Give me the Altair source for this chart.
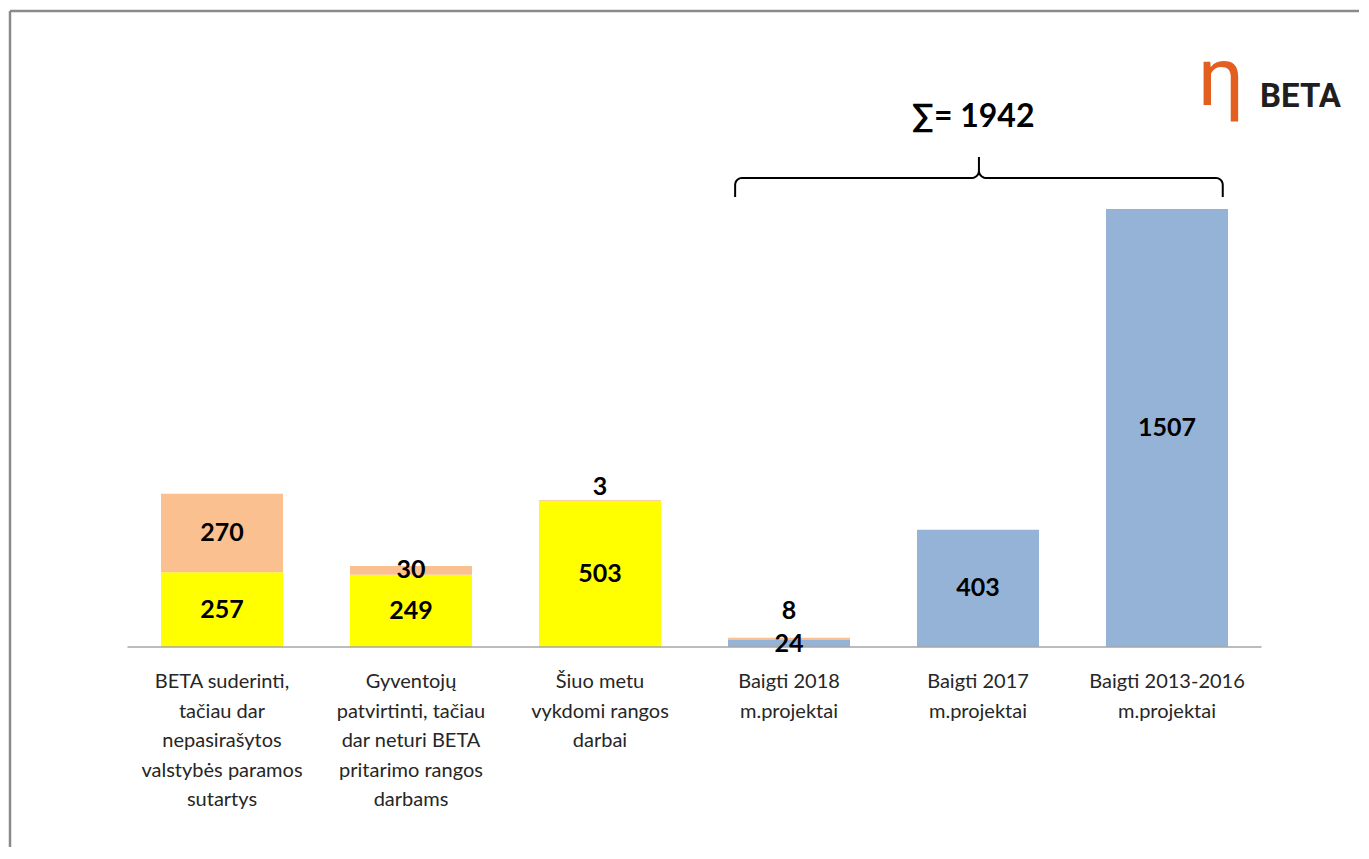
import math
import altair as alt
import pandas as pd

# ---------------- data ----------------
categories = [
    "BETA suderinti,\ntačiau dar\nnepasirašytos\nvalstybės paramos\nsutartys",
    "Gyventojų\npatvirtinti, tačiau\ndar neturi BETA\npritarimo rangos\ndarbams",
    "Šiuo metu\nvykdomi  rangos\ndarbai",
    "Baigti 2018\nm.projektai",
    "Baigti 2017\nm.projektai",
    "Baigti 2013-2016\nm.projektai",
]
base_values = [257, 249, 503, 24, 403, 1507]
top_values = [270, 30, 3, 8, 0, 0]
base_colors = ["#FFFF00", "#FFFF00", "#FFFF00", "#95B3D7", "#95B3D7", "#95B3D7"]
top_color = "#FAC090"
completed_idx = [3, 4, 5]
sum_total = sum(base_values[i] + top_values[i] for i in completed_idx)  # 1942

# ---------------- layout ----------------
W, H = 1349, 836
k = 0.29065                      # px per unit
y0_px = 636                      # baseline (plot-relative)
yscale = alt.Scale(domain=[-(H - y0_px) / k, y0_px / k], nice=False, zero=False)
step = 189
bar_w = 122
p_inner = 1 - bar_w / step
p_outer = (W - step * (len(categories) - p_inner)) / (2 * step)
first_bar = 151
align = first_bar / (W - step * (len(categories) - p_inner))
xband_scale = alt.Scale(type="band", domain=categories, paddingInner=p_inner,
                        paddingOuter=p_outer, align=align, round=False)
center0 = first_bar + bar_w / 2
u_min = -(center0 - 0.5 * step) / step
u_max = (W - (center0 - 0.5 * step)) / step
uscale = alt.Scale(domain=[u_min, u_max], nice=False, zero=False)

# ---------------- tables ----------------
rows = []
for i, c in enumerate(categories):
    rows.append(dict(cat=c, seg="base", value=base_values[i], y0=0,
                     y1=base_values[i], color=base_colors[i]))
    rows.append(dict(cat=c, seg="top", value=top_values[i], y0=base_values[i],
                     y1=base_values[i] + top_values[i], color=top_color))
df = pd.DataFrame(rows)
df = df[df["value"] > 0].copy()
df["mid"] = (df["y0"] + df["y1"]) / 2
df["label"] = df["value"].astype(str)
# thin segments: label sits above the bar, clear of the label below it
above_gap = 45 / 1.0      # value units above the bar top
clear_gap = 113 / 1.0     # value units above the lower label
df["ly"] = df["mid"]
thin = df["value"] < 20
df.loc[thin, "ly"] = [max(r.y1 + above_gap, r.y0 / 2 + clear_gap)
                      for r in df[thin].itertuples()]

xb = alt.X("cat:N", sort=categories, scale=xband_scale, axis=None)
xt = alt.X("cat:N", sort=categories, scale=xband_scale, axis=None, bandPosition=0.5)

bars = alt.Chart(df).mark_bar().encode(
    x=xb,
    y=alt.Y("y0:Q", scale=yscale, axis=None),
    y2="y1:Q",
    color=alt.Color("color:N", scale=None),
)

value_labels = alt.Chart(df).mark_text(
    font="Lato", fontSize=25, fontWeight="bold", color="#000000", baseline="middle"
).encode(x=xt, y=alt.Y("ly:Q", scale=yscale, axis=None), text="label:N")

cat_df = pd.DataFrame({"cat": categories, "v": [0] * len(categories)})
cat_labels = alt.Chart(cat_df).mark_text(
    font="Lato", fontSize=20, color="#262626", baseline="alphabetic",
    lineBreak="\n", lineHeight=29.5, dy=41, align="center"
).encode(x=xt, y=alt.Y("v:Q", scale=yscale, axis=None), text="cat:N")

# baseline
base_df = pd.DataFrame({"u0": [0], "u1": [len(categories)], "v": [0]})
baseline = alt.Chart(base_df).mark_rule(color="#A6A6A6", strokeWidth=1.5).encode(
    x=alt.X("u0:Q", scale=uscale, axis=None), x2="u1:Q",
    y=alt.Y("v:Q", scale=yscale, axis=None),
)

# brace over completed projects
u_a, u_b = 3.215, 5.795
v_end, v_line, v_peak = 1548, 1614, 1686
du, dvc = 0.037, 24
um = (u_a + u_b) / 2
pts = [(u_a, v_end)]
for a in range(180, 89, -15):
    r = math.radians(a)
    pts.append((u_a + du + du * math.cos(r), v_line - dvc + dvc * math.sin(r)))
for a in range(-90, 1, 15):
    r = math.radians(a)
    pts.append((um - du + du * math.cos(r), v_line + dvc + dvc * math.sin(r)))
pts.append((um, v_peak))
for a in range(180, 269, 15):
    r = math.radians(a)
    pts.append((um + du + du * math.cos(r), v_line + dvc + dvc * math.sin(r)))
pts.append((um + du, v_line))
for a in range(90, -1, -15):
    r = math.radians(a)
    pts.append((u_b - du + du * math.cos(r), v_line - dvc + dvc * math.sin(r)))
pts.append((u_b, v_end))
brace_df = pd.DataFrame({"u": [p[0] for p in pts], "v": [p[1] for p in pts],
                         "o": list(range(len(pts)))})
brace = alt.Chart(brace_df).mark_line(color="#000000", strokeWidth=2).encode(
    x=alt.X("u:Q", scale=uscale, axis=None),
    y=alt.Y("v:Q", scale=yscale, axis=None),
    order="o:Q",
)

sum_df = pd.DataFrame({"u": [um - 0.03], "v": [1823.5], "t": [f"∑= {sum_total}"]})
sum_text = alt.Chart(sum_df).mark_text(
    font="Lato", fontSize=32, fontWeight="bold", color="#000000", baseline="middle"
).encode(x=alt.X("u:Q", scale=uscale, axis=None),
         y=alt.Y("v:Q", scale=yscale, axis=None), text="t:N")

# logo
eta_df = pd.DataFrame({"u": [5.786], "v": [1864.8], "t": ["η"]})
eta = alt.Chart(eta_df).mark_text(
    font="Roboto", fontSize=82, color="#E35F20", baseline="alphabetic", align="center"
).encode(x=alt.X("u:Q", scale=uscale, axis=None),
         y=alt.Y("v:Q", scale=yscale, axis=None), text="t:N")
beta_df = pd.DataFrame({"u": [5.992], "v": [1857.9], "t": ["BETA"]})
beta = alt.Chart(beta_df).mark_text(
    font="Roboto", fontSize=33, fontWeight="bold", color="#1F1F1F",
    baseline="alphabetic", align="left"
).encode(x=alt.X("u:Q", scale=uscale, axis=None),
         y=alt.Y("v:Q", scale=yscale, axis=None), text="t:N")

# frame (top and left edges)
one = alt.Data(values=[{}])
frame_left = alt.Chart(one).mark_rule(color="#8A8A8A", strokeWidth=2.5).encode(
    x=alt.value(0), y=alt.value(0), y2=alt.value(H))
frame_top = alt.Chart(one).mark_rule(color="#8A8A8A", strokeWidth=2.5).encode(
    x=alt.value(0), x2=alt.value(W), y=alt.value(0))

chart = alt.layer(
    bars, baseline, value_labels, cat_labels,
    brace, sum_text, eta, beta, frame_left, frame_top
).resolve_scale(x="independent").properties(
    width=W, height=H, autosize="none",
    padding={"left": 2, "top": 3, "right": 0, "bottom": 0},
    background="#FFFFFF",
).configure_view(stroke=None)

chart.save("out.html", embed_options={"renderer": "svg", "actions": False})
